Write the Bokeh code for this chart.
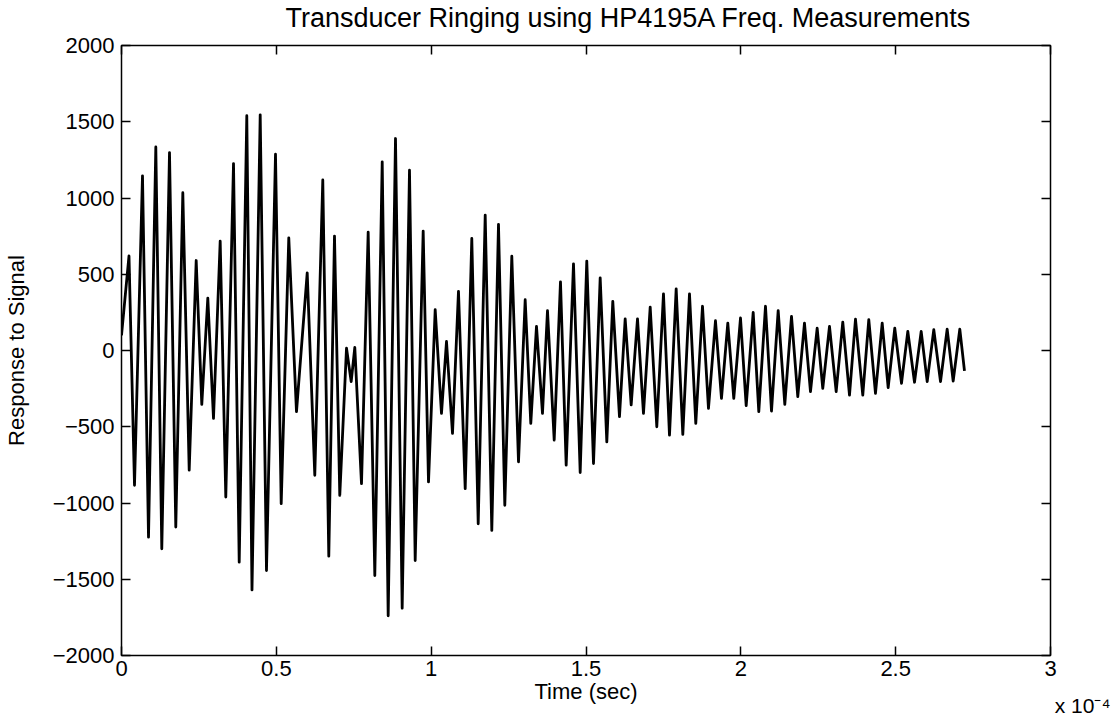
from bokeh.plotting import figure
from bokeh.models import Range1d, FixedTicker, LinearAxis, Title
from bokeh.embed import file_html
from bokeh.resources import INLINE

# Time of each local extremum (units of 1e-4 s) and the response value there
time_e4 = [0.0, 0.0242, 0.0420, 0.0678, 0.0872, 0.1108, 0.1301, 0.1550, 0.1753, 0.1980,
           0.2186, 0.2412, 0.2593, 0.2787, 0.2971, 0.3187, 0.3368, 0.3617, 0.3801, 0.4046,
           0.4214, 0.4479, 0.4682, 0.4973, 0.5157, 0.5402, 0.5651, 0.5997, 0.6242, 0.6500,
           0.6694, 0.6878, 0.7049, 0.7266, 0.7417, 0.7534, 0.7750, 0.7966, 0.8180, 0.8419,
           0.8612, 0.8848, 0.9064, 0.9300, 0.9484, 0.9742, 0.9914, 1.0130, 1.0333, 1.0495,
           1.0689, 1.0882, 1.1099, 1.1312, 1.1519, 1.1745, 1.1958, 1.2174, 1.2378, 1.2604,
           1.2820, 1.3036, 1.3217, 1.3401, 1.3595, 1.3756, 1.3973, 1.4176, 1.4360, 1.4596,
           1.4812, 1.5025, 1.5242, 1.5458, 1.5672, 1.5865, 1.6081, 1.6265, 1.6459, 1.6663,
           1.6856, 1.7073, 1.7286, 1.7502, 1.7696, 1.7912, 1.8126, 1.8342, 1.8545, 1.8762,
           1.8955, 1.9181, 1.9375, 1.9579, 1.9772, 1.9989, 2.0173, 2.0399, 2.0580, 2.0796,
           2.0990, 2.1206, 2.1420, 2.1636, 2.1839, 2.2055, 2.2249, 2.2465, 2.2646, 2.2863,
           2.3079, 2.3292, 2.3509, 2.3702, 2.3938, 2.4132, 2.4348, 2.4565, 2.4758, 2.4971,
           2.5188, 2.5392, 2.5608, 2.5824, 2.6018, 2.6231, 2.6448, 2.6663, 2.6857, 2.7071,
           2.7222]

response = [100, 620, -884, 1145, -1224, 1335, -1300, 1298, -1158, 1035,
            -785, 590, -353, 344, -445, 717, -961, 1226, -1388, 1540,
            -1570, 1545, -1443, 1287, -1004, 739, -401, 509, -818, 1118,
            -1349, 750, -950, 15, -204, 20, -873, 776, -1476, 1237,
            -1740, 1390, -1690, 1182, -1377, 783, -862, 268, -412, 59,
            -544, 388, -906, 735, -1136, 888, -1180, 827, -1015, 618,
            -730, 333, -478, 158, -412, 261, -588, 450, -752, 568,
            -800, 586, -741, 476, -599, 322, -434, 208, -357, 208,
            -412, 285, -500, 371, -555, 404, -550, 371, -478, 290,
            -380, 195, -314, 180, -314, 213, -362, 250, -401, 290,
            -397, 261, -353, 224, -303, 180, -270, 147, -248, 158,
            -270, 186, -292, 205, -292, 202, -281, 180, -243, 147,
            -215, 125, -208, 125, -204, 136, -204, 140, -200, 140,
            -134]

x_ticks = [0, 0.5, 1, 1.5, 2, 2.5, 3]
x_tick_labels = ["0", "0.5", "1", "1.5", "2", "2.5", "3"]
y_ticks = [-2000, -1500, -1000, -500, 0, 500, 1000, 1500, 2000]
y_tick_labels = ["\u22122000", "\u22121500", "\u22121000", "\u2212500", "0", "500", "1000", "1500", "2000"]
x_scale_note = "x 10\u207b\u2074"

FONT = "Liberation Sans"
FS = "22px"

p = figure(width=1112, height=723, x_range=Range1d(0, 3), y_range=Range1d(-2000, 2000),
           output_backend="svg", toolbar_location=None,
           min_border_left=121, min_border_right=62, min_border_top=45, min_border_bottom=68,
           title="Transducer Ringing using HP4195A Freq. Measurements")
p.title.align = "left"
p.title.offset = 164
p.title.standoff = 0
p.title.text_font = FONT
p.title.text_font_size = "27px"
p.title.text_font_style = "normal"
p.title.text_color = "black"
p.grid.visible = False
p.outline_line_color = "black"
p.outline_line_width = 1.5
p.background_fill_color = "white"
p.border_fill_color = "white"

p.line(time_e4, response, line_color="black", line_width=2.8, line_join="round")


def style_axis(ax, show_labels=True):
    ax.minor_tick_line_color = None
    ax.major_tick_in = 9
    ax.major_tick_out = 0
    ax.major_tick_line_color = "black"
    ax.major_tick_line_width = 1.5
    ax.axis_line_color = None
    ax.major_label_text_font = FONT
    ax.major_label_text_font_size = FS if show_labels else "0px"
    ax.major_label_text_color = "black"
    ax.major_label_standoff = 5


style_axis(p.xaxis[0])
p.xaxis[0].ticker = FixedTicker(ticks=x_ticks)
p.xaxis[0].major_label_overrides = dict(zip(x_ticks, x_tick_labels))
p.xaxis[0].axis_label = "Time (sec)"
p.xaxis[0].axis_label_text_font = FONT
p.xaxis[0].axis_label_text_font_size = FS
p.xaxis[0].axis_label_text_font_style = "normal"
p.xaxis[0].axis_label_text_color = "black"
p.xaxis[0].axis_label_standoff = 0

style_axis(p.yaxis[0])
p.yaxis[0].major_label_standoff = 7
p.yaxis[0].ticker = FixedTicker(ticks=y_ticks)
p.yaxis[0].major_label_overrides = dict(zip(y_ticks, y_tick_labels))
p.yaxis[0].axis_label = "Response to Signal"
p.yaxis[0].axis_label_text_font = FONT
p.yaxis[0].axis_label_text_font_size = FS
p.yaxis[0].axis_label_text_font_style = "normal"
p.yaxis[0].axis_label_text_color = "black"
p.yaxis[0].axis_label_standoff = 21

# tick marks along the top and right edges of the box
top_ax = LinearAxis(ticker=FixedTicker(ticks=x_ticks), major_label_overrides={t: "" for t in x_ticks})
style_axis(top_ax, show_labels=False)
top_ax.major_label_standoff = 0
p.add_layout(top_ax, "above")
right_ax = LinearAxis(ticker=FixedTicker(ticks=y_ticks), major_label_overrides={t: "" for t in y_ticks})
style_axis(right_ax, show_labels=False)
right_ax.major_label_standoff = 0
p.add_layout(right_ax, "right")

# invisible spacer between the box and the title
spacer = LinearAxis(ticker=FixedTicker(ticks=[1.5]), major_label_overrides={1.5: ""},
                    major_tick_in=0, major_tick_out=13,
                    major_tick_line_color=None, axis_line_color=None,
                    minor_tick_line_color=None, major_label_standoff=0,
                    major_label_text_font_size="0px")
p.add_layout(spacer, "above")

# exponent note below the right end of the x axis
note = Title(text=x_scale_note, align="right", offset=-60, standoff=-26, vertical_align="top",
             text_font=FONT, text_font_size="21px", text_font_style="normal",
             text_color="black")
p.add_layout(note, "below")

open("out.html", "w").write(file_html(p, INLINE))
